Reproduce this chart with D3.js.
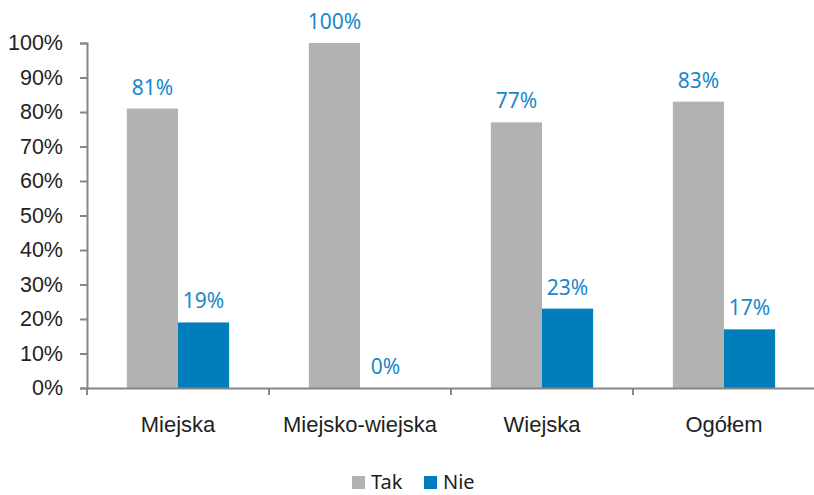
<!DOCTYPE html>
<html>
<head>
<meta charset="utf-8">
<script src="https://cdn.jsdelivr.net/npm/d3@7"></script>
<style>
  body { margin: 0; background: #fff; }
  svg { display: block; font-family: "Noto Sans", sans-serif; }
</style>
</head>
<body>
<div id="container"></div>
<script>
const categories = ['Miejska', 'Miejsko-wiejska', 'Wiejska', 'Ogółem'];
const seriesNames = ['Tak', 'Nie'];
const takValues = [81, 100, 77, 83];
const nieValues = [19, 0, 23, 17];
const yTicks = [0, 10, 20, 30, 40, 50, 60, 70, 80, 90, 100];

const colors = { Tak: '#b2b2b2', Nie: '#007dbb' };
const labelColor = '#1a88c9';
const textColor = '#231f20';

const width = 814;
const height = 495;
const plotLeft = 87, plotRight = 815, plotTop = 43, plotBottom = 388;

const svg = d3.select('#container').append('svg')
    .attr('width', width)
    .attr('height', height);

const x = d3.scaleBand()
    .domain(categories)
    .range([plotLeft, plotRight]);

const xInner = d3.scaleBand()
    .domain(seriesNames)
    .range([0, x.bandwidth()])
    .paddingOuter(0.78);

const y = d3.scaleLinear()
    .domain([0, 100])
    .range([plotBottom, plotTop]);

const data = categories.map((c, i) => ({ category: c, Tak: takValues[i], Nie: nieValues[i] }));

// y axis
const yAxis = svg.append('g')
    .attr('transform', `translate(${plotLeft},0)`)
    .call(d3.axisLeft(y).tickValues(yTicks).tickFormat(d => d + '%').tickSize(7).tickPadding(17));
yAxis.select('.domain').attr('stroke', '#868686').attr('stroke-width', 2);
yAxis.selectAll('.tick line').attr('stroke', '#868686').attr('stroke-width', 2);
yAxis.selectAll('.tick text').attr('fill', textColor).style('font-size', '21.5px');

// bars
const groups = svg.append('g')
    .selectAll('g')
    .data(data)
    .enter().append('g')
    .attr('transform', d => `translate(${x(d.category)},0)`);

groups.selectAll('rect')
    .data(d => seriesNames.map(s => ({ key: s, value: d[s] })))
    .enter().append('rect')
    .attr('x', d => xInner(d.key))
    .attr('y', d => y(d.value))
    .attr('width', xInner.bandwidth())
    .attr('height', d => plotBottom - y(d.value))
    .attr('fill', d => colors[d.key]);

groups.selectAll('text.value')
    .data(d => seriesNames.map(s => ({ key: s, value: d[s] })))
    .enter().append('text')
    .attr('class', 'value')
    .attr('x', d => xInner(d.key) + xInner.bandwidth() / 2)
    .attr('y', d => y(d.value) - 14)
    .attr('text-anchor', 'middle')
    .attr('fill', labelColor)
    .style('font-size', '21px')
    .text(d => d.value + '%');

// x axis
const xAxis = svg.append('g')
    .attr('transform', `translate(0,${plotBottom})`)
    .call(d3.axisBottom(x).tickSize(0).tickPadding(28));
xAxis.select('.domain').attr('stroke', '#868686').attr('stroke-width', 2);
xAxis.selectAll('.tick text').attr('fill', textColor).style('font-size', '22px');

// category separator ticks
svg.append('g')
    .selectAll('line')
    .data(categories.concat(['end']))
    .enter().append('line')
    .attr('x1', (d, i) => i < categories.length ? x(d) : plotRight)
    .attr('x2', (d, i) => i < categories.length ? x(d) : plotRight)
    .attr('y1', plotBottom)
    .attr('y2', plotBottom + 7)
    .attr('stroke', '#868686')
    .attr('stroke-width', 2);

// legend
const legend = svg.append('g')
    .selectAll('g')
    .data(seriesNames)
    .enter().append('g')
    .attr('transform', (d, i) => `translate(${352 + i * 72},476)`);
legend.append('rect')
    .attr('width', 13)
    .attr('height', 13)
    .attr('fill', d => colors[d]);
legend.append('text')
    .attr('x', 19)
    .attr('y', 13)
    .attr('fill', textColor)
    .style('font-size', '20px')
    .text(d => d);
</script>
</body>
</html>
